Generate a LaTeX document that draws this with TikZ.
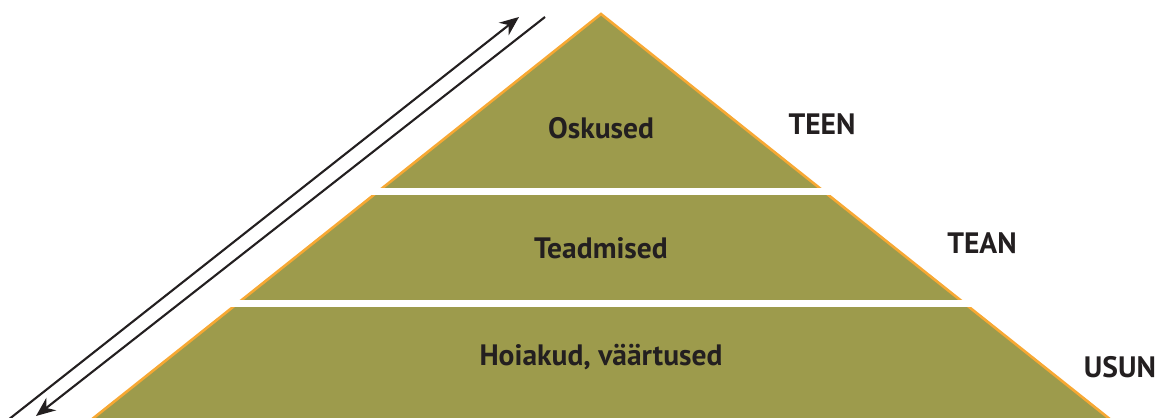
\documentclass[tikz,border=0pt]{standalone}
\usepackage{fontspec}
\setmainfont{PT Sans}
\usetikzlibrary{arrows.meta}
\definecolor{olive}{RGB}{157,155,76}
\definecolor{edge}{RGB}{247,168,51}
\definecolor{ink}{RGB}{35,31,32}
\tikzset{
	level/.style={font=\bfseries\fontsize{16.8}{20}\selectfont, text=ink, inner sep=0pt},
	gap/.style={draw=white, line width=7*0.02cm},
	flow/.style={draw=ink, line width=1.2pt, -{Stealth[length=11pt, width=9pt]}}
}

\begin{document}
\begin{tikzpicture}[x=0.02cm, y=-0.02cm]
	%%%%% START %%%%%
	\useasboundingbox (0, 0) rectangle (1159, 418);
	\clip (0, 0) rectangle (1159, 418);
	
	\draw[fill=olive, draw=edge, line width=2.6*0.02cm, line join=miter] (601, 14) -- (1116, 424) -- (86, 424) -- cycle;
	
	\draw[gap] (300, 191.5) -- (900, 191.5);
	\draw[gap] (200, 303.5) -- (1000, 303.5);
	
	\node[level] (skills) at (601, 128) {Oskused};
	\node[level] (knowledge) at (601, 248) {Teadmised};
	\node[level] (attitudes) at (601, 357) {Hoiakud, väärtused};
	
	\node[level] (doing) at (822, 124) {TEEN};
	\node[level] (knowing) at (982, 243) {TEAN};
	\node[level] (believing) at (1120, 367) {USUN};
	
	\coordinate (upfoot) at (8, 420);
	\coordinate (uphead) at (519, 17);
	\coordinate (downtop) at (545, 17);
	\coordinate (downhead) at (36, 416);
	\draw[flow] (upfoot) -- (uphead);
	\draw[flow] (downtop) -- (downhead);
	
	%%%%% END %%%%%
\end{tikzpicture}
\end{document}
